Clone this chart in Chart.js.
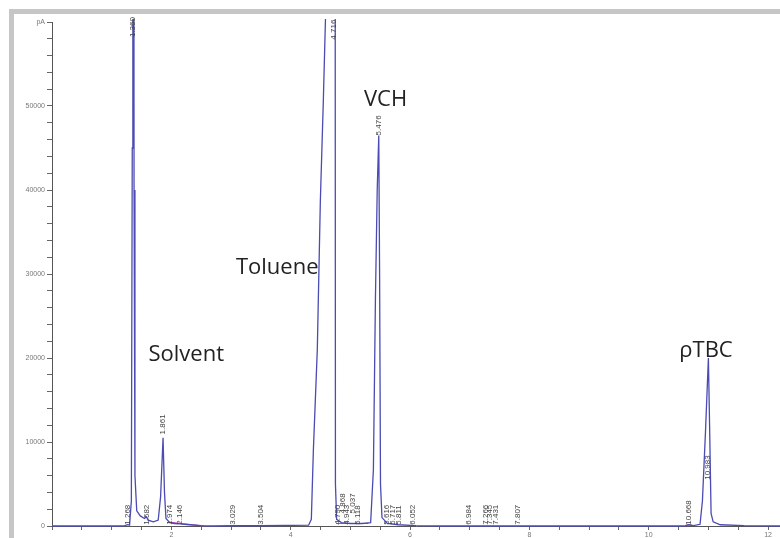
<!DOCTYPE html>
<html lang="en">
<head>
    <meta charset="UTF-8">
    <title>Chromatogram</title>
    <script src="https://cdn.jsdelivr.net/npm/chart.js"></script>
    <style>
        body { margin: 0; overflow: hidden; background: #fff; }
        .frame {
            position: absolute; left: 9px; top: 9px; right: 0; bottom: 0;
            border-left: 5px solid #c6c6c6; border-top: 5px solid #c6c6c6;
        }
        .wrap { position: absolute; left: 0; top: 0; }
    </style>
</head>
<body>
    <div class="frame"></div>
    <div class="wrap"><canvas id="gc" width="780" height="545"></canvas></div>

    <script>
        // detector trace (min, pA)
        const traceTimes = [0, 1.20, 1.268, 1.30, 1.33, 1.345, 1.355, 1.365, 1.375, 1.39, 1.42, 1.48, 1.55, 1.582, 1.61, 1.70, 1.78, 1.82, 1.861, 1.885, 1.91, 1.974, 2.05, 2.146, 2.30, 2.50, 2.70, 3.029, 3.504, 4.30, 4.346, 4.38, 4.446, 4.497, 4.547, 4.60, 4.716, 4.740, 4.750, 4.77, 4.85, 5.00, 5.20, 5.34, 5.386, 5.42, 5.45, 5.476, 5.49, 5.505, 5.53, 5.62, 5.80, 6.10, 6.50, 10.60, 10.668, 10.75, 10.86, 10.90, 10.95, 11.00, 11.02, 11.045, 11.08, 11.20, 11.60, 12.20];
        const traceSignal = [0, 0, 150, 100, 3000, 45000, 150000, 150000, 40000, 6000, 1800, 1200, 900, 1100, 700, 500, 700, 3500, 10500, 4000, 900, 400, 300, 250, 150, 50, 0, 30, 30, 100, 800, 9000, 21000, 38700, 50600, 65000, 200000, 150000, 5000, 800, 400, 300, 300, 400, 6700, 27000, 40000, 46500, 30000, 5000, 1000, 300, 150, 50, 0, 0, 150, 50, 200, 3000, 11000, 20000, 12000, 1500, 500, 150, 50, 0];

        // integration baselines (null = break)
        const baseTimes = [1.95, 2.55, 2.56, 4.76, 5.30, 5.31, 10.62, 10.72];
        const baseSignal = [450, 0, null, 300, 300, null, 100, 100];

        // retention time labels
        const rtLabels = ['1.268', '1.360', '1.582', '1.861', '1.974', '2.146', '3.029', '3.504', '4.716', '4.790', '4.868', '4.943', '5.037', '5.118', '5.476', '5.616', '5.717', '5.811', '6.052', '6.984', '7.266', '7.345', '7.431', '7.807', '10.668', '10.983'];
        const rtTimes = [1.268, 1.360, 1.582, 1.861, 1.974, 2.146, 3.029, 3.504, 4.716, 4.790, 4.868, 4.943, 5.037, 5.118, 5.476, 5.616, 5.717, 5.811, 6.052, 6.984, 7.266, 7.345, 7.431, 7.807, 10.668, 10.983];
        const rtLevels = [150, 58200, 150, 10900, 150, 150, 150, 150, 57900, 150, 1500, 150, 1500, 150, 46500, 150, 150, 150, 150, 150, 150, 150, 150, 150, 150, 5500];

        // compound names
        const compounds = ['Solvent', 'Toluene', 'VCH', 'ρTBC'];
        const compoundTimes = [2.25, 3.775, 5.59, 10.96];
        const compoundLevels = [20400, 30700, 50700, 20900];

        const yTicks = [0, 10000, 20000, 30000, 40000, 50000];
        const xTicks = [2, 4, 6, 8, 10, 12];

        const toPoints = (xs, ys) => xs.map((x, i) => ({ x: x, y: ys[i] }));

        // rotated retention times and compound names
        const labelPlugin = {
            id: 'peakLabels',
            afterDatasetsDraw(chart) {
                const ctx = chart.ctx;
                const xs = chart.scales.x, ys = chart.scales.y;
                ctx.save();
                ctx.fillStyle = '#444';
                ctx.font = '8px "Liberation Sans", Arial, sans-serif';
                ctx.textAlign = 'left';
                ctx.textBaseline = 'middle';
                rtLabels.forEach((t, i) => {
                    ctx.save();
                    ctx.translate(xs.getPixelForValue(rtTimes[i]), ys.getPixelForValue(rtLevels[i]));
                    ctx.rotate(-Math.PI / 2);
                    ctx.fillText(t, 0, 0);
                    ctx.restore();
                });
                ctx.fillStyle = '#222';
                ctx.font = '22px "Open Sans", sans-serif';
                ctx.textAlign = 'center';
                compounds.forEach((c, i) => {
                    ctx.fillText(c, xs.getPixelForValue(compoundTimes[i]), ys.getPixelForValue(compoundLevels[i]));
                });
                ctx.restore();
            }
        };

        new Chart(document.getElementById('gc'), {
            type: 'line',
            data: {
                datasets: [{
                    data: toPoints(traceTimes, traceSignal),
                    borderColor: '#4b4bb3',
                    borderWidth: 1.3,
                    pointRadius: 0,
                    tension: 0,
                    clip: { left: 0, top: 3, right: 0, bottom: 3 }
                }, {
                    data: toPoints(baseTimes, baseSignal),
                    borderColor: '#d040c0',
                    borderWidth: 1.2,
                    pointRadius: 0,
                    spanGaps: false,
                    clip: { left: 0, top: 3, right: 0, bottom: 3 }
                }]
            },
            options: {
                responsive: false,
                animation: false,
                layout: { padding: { top: 22, right: 0, left: 0, bottom: 0 } },
                plugins: { legend: { display: false }, tooltip: { enabled: false } },
                scales: {
                    x: {
                        type: 'linear',
                        min: 0,
                        max: 12.2,
                        afterFit: (s) => { s.height = 19; },
                        // minor ticks every half minute, labels on even minutes
                        afterBuildTicks: (s) => {
                            const ticks = [];
                            for (let v = 0; v <= 12; v += 0.5) ticks.push({ value: v });
                            s.ticks = ticks;
                        },
                        border: { color: '#555' },
                        grid: { drawOnChartArea: false, tickLength: 4, tickColor: '#666' },
                        ticks: {
                            autoSkip: false,
                            maxRotation: 0,
                            padding: 1,
                            color: '#777',
                            font: { size: 7, family: 'Liberation Sans' },
                            callback: (v) => xTicks.includes(v) ? String(v) : ''
                        }
                    },
                    y: {
                        min: 0,
                        max: 60000,
                        afterFit: (s) => { s.width = 52; },
                        border: { color: '#555' },
                        grid: { drawOnChartArea: false, tickLength: 5, tickColor: '#666' },
                        ticks: {
                            stepSize: 2000,
                            autoSkip: false,
                            padding: 2,
                            color: '#777',
                            font: { size: 7, family: 'Liberation Sans' },
                            callback: (v) => v === 60000 ? 'pA' : (yTicks.includes(v) ? String(v) : '')
                        }
                    }
                }
            },
            plugins: [labelPlugin]
        });
    </script>
</body>
</html>
